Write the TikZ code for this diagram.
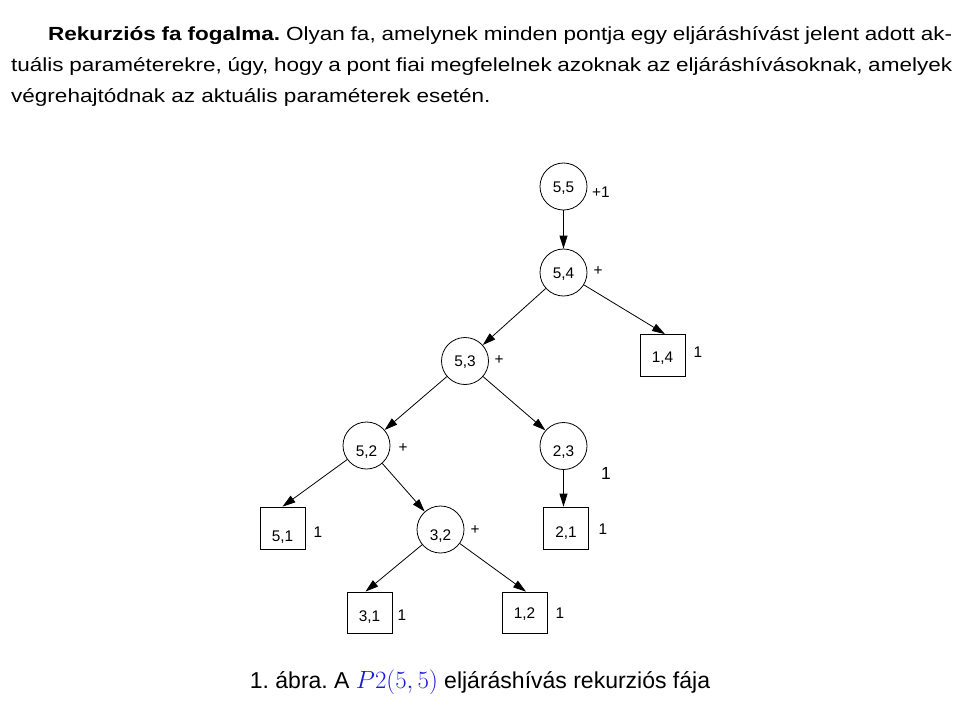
\documentclass[tikz,border=0pt]{standalone}
\usepackage{fontspec}
\setmainfont{Liberation Sans}
\usetikzlibrary{arrows.meta}
\definecolor{capblue}{RGB}{25,25,215}
\frenchspacing

\begin{document}
\begin{tikzpicture}[x=1pt,y=-1pt,
  call/.style={draw,circle,line width=0.8pt,minimum size=47pt,inner sep=0pt,
    text height=11pt,text depth=0pt,font=\fontsize{15.4}{18}\selectfont},
  low/.style={text height=21pt},
  leaf/.style={draw,rectangle,line width=0.8pt,minimum width=45pt,minimum height=42pt,
    inner sep=0pt,text depth=0pt,font=\fontsize{15.4}{18}\selectfont},
  tag/.style={inner sep=0pt,text height=11pt,text depth=0pt,font=\fontsize{15.4}{18}\selectfont},
  para/.style={anchor=base west,inner sep=0pt,font=\fontsize{19}{24}\selectfont},
  edge/.style={-{Triangle[length=13pt,width=8pt]},line width=0.8pt}]
  \useasboundingbox (0,0) rectangle (966,718);
  \def\wide{1.185}
  % text above the tree
  \node[para] (line1) at (48,40) {\scalebox{\wide}[1]{\makebox[762.9pt][s]{\textbf{Rekurziós fa fogalma.} Olyan fa, amelynek minden pontja egy eljáráshívást jelent adott ak-}}};
  \node[para] (line2) at (11,71) {\scalebox{\wide}[1]{\makebox[794.1pt][s]{tuális paraméterekre, úgy, hogy a pont fiai megfelelnek azoknak az eljáráshívásoknak, amelyek}}};
  \node[para] (line3) at (11,102) {\scalebox{\wide}[1]{végrehajtódnak az aktuális paraméterek esetén.}};
  %
  \node[call] (c55) at (563.5,186.5) {5,5};
  \node[call] (c54) at (563.5,272.5) {5,4};
  \node[call] (c53) at (465,361) {5,3};
  \node[call,low] (c52) at (366.5,445.5) {5,2};
  \node[call,low] (c23) at (563.5,446) {2,3};
  \node[call,low] (c32) at (440.5,529.5) {3,2};
  %
  \node[leaf,text height=14pt] (l14) at (662.5,355.5) {1,4\hspace{3pt}};
  \node[leaf,text height=27pt] (l51) at (282.5,528) {5,1\hspace{14pt}};
  \node[leaf,text height=18pt] (l21) at (566,528) {2,1\hspace{14pt}};
  \node[leaf,text height=18pt,minimum height=41pt] (l31) at (369.5,612.5) {3,1\hspace{10pt}};
  \node[leaf,text height=11pt,minimum height=41pt] (l12) at (524.5,612.5) {1,2\hspace{9pt}};
  %
  \draw[edge] (c55) -- (c54);
  \draw[edge] (c54) -- (c53);
  \draw[edge] (c54) -- ([xshift=2.5pt]l14.north);
  \draw[edge] (c53) -- (c52);
  \draw[edge] (c53) -- (c23);
  \draw[edge] (c52) -- (l51.north);
  \draw[edge] (c52) -- (c32);
  \draw[edge] (c32) -- ([xshift=-4pt]l31.north);
  \draw[edge] (c32) -- ([xshift=1.5pt]l12.north);
  \draw[edge] (c23) -- (c23 |- l21.north);
  %
  \node[tag] (first) at (601,192) {+1};
  \foreach \x/\y [count=\i] in {598/270,499/359,403/447,475/529}
    \node[tag] (plus\i) at (\x,\y) {+};
  \foreach \x/\y [count=\i] in {698/352,318/532,603/529,402/615,560/613}
    \node[tag] (one\i) at (\x,\y) {1};
  \node[tag,font=\fontsize{17.5}{20}\selectfont,text height=12.5pt] (big) at (606,473) {1};
  %
  \node[anchor=base,inner sep=0pt,font=\fontsize{23}{28}\selectfont] (caption) at (480,688)
    {1. ábra. A {\fontsize{24.4}{28}\selectfont\textcolor{capblue}{$P2(5,5)$}} eljáráshívás rekurziós fája};
\end{tikzpicture}
\end{document}
